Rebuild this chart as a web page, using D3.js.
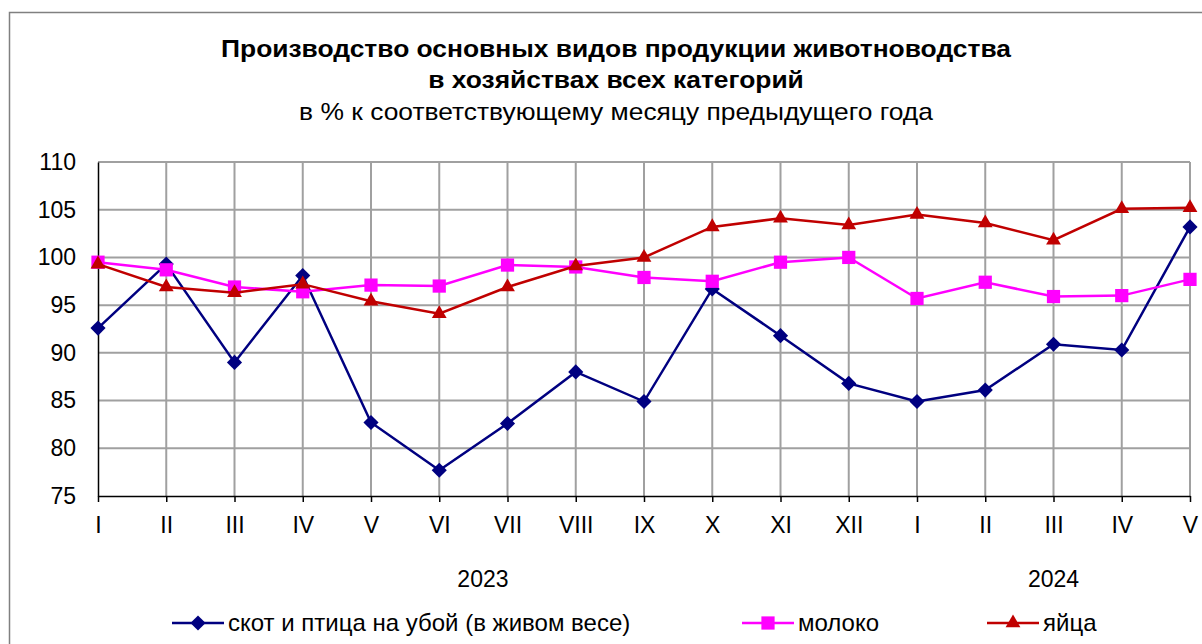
<!DOCTYPE html>
<html>
<head>
<meta charset="utf-8">
<script src="https://cdn.jsdelivr.net/npm/d3@7"></script>
<style>
  body { margin: 0; background: #fff; }
  svg { display: block; font-family: "Liberation Sans", Arial, sans-serif; }
</style>
</head>
<body>
<svg id="chart" width="1202" height="644"></svg>
<script>
'use strict';

const months = ['I', 'II', 'III', 'IV', 'V', 'VI', 'VII', 'VIII', 'IX', 'X', 'XI', 'XII',
  'I', 'II', 'III', 'IV', 'V'];
const years = [{ label: '2023', at: 5.64 }, { label: '2024', at: 14 }];
const yTicks = [75, 80, 85, 90, 95, 100, 105, 110];

const livestock = [92.6, 99.3, 89.0, 98.1, 82.7, 77.7, 82.6, 88.0, 84.9, 96.7, 91.8, 86.8,
  84.9, 86.1, 90.9, 90.3, 103.2];
const milk = [99.5, 98.7, 96.9, 96.4, 97.1, 97.0, 99.2, 99.0, 97.9, 97.5, 99.5, 100.0,
  95.7, 97.4, 95.9, 96.0, 97.7];
const eggs = [99.3, 96.9, 96.3, 97.2, 95.4, 94.1, 96.9, 99.1, 100.0, 103.2, 104.1, 103.4,
  104.5, 103.6, 101.8, 105.1, 105.2];

const series = [
  { name: 'скот и птица на убой (в живом весе)', values: livestock, color: '#000080', symbol: d3.symbolSquare, size: 115, rotate: 45 },
  { name: 'молоко', values: milk, color: '#ff00ff', symbol: d3.symbolSquare, size: 175, rotate: 0 },
  { name: 'яйца', values: eggs, color: '#c00000', symbol: d3.symbolTriangle, size: 95, rotate: 0 }
];

const svg = d3.select('#chart');
const plotLeft = 98, plotRight = 1190, plotTop = 162, plotBottom = 496;

const x = d3.scalePoint().domain(d3.range(months.length)).range([plotLeft, plotRight]);
const y = d3.scaleLinear().domain([75, 110]).range([plotBottom, plotTop]);

// outer frame
svg.append('path')
  .attr('d', 'M 9.5 644 L 9.5 12.5 L 1210 12.5')
  .attr('fill', 'none')
  .attr('stroke', '#808080')
  .attr('stroke-width', 1.5);

// titles (slightly widened like the original)
const titles = [
  { text: 'Производство основных видов продукции животноводства', y: 57, bold: true },
  { text: 'в хозяйствах всех категорий', y: 88, bold: true },
  { text: 'в % к соответствующему месяцу предыдущего года', y: 120, bold: false }
];
svg.selectAll('text.title')
  .data(titles)
  .join('text')
  .attr('class', 'title')
  .attr('transform', d => `translate(616,${d.y}) scale(1.1,1)`)
  .attr('text-anchor', 'middle')
  .attr('font-size', 24)
  .attr('font-weight', d => d.bold ? 'bold' : 'normal')
  .text(d => d.text);

// grid
const grid = svg.append('g').attr('stroke', '#a0a0a0').attr('stroke-width', 2);
grid.selectAll('line.h')
  .data(yTicks.filter(t => t > 75))
  .join('line')
  .attr('class', 'h')
  .attr('x1', plotLeft).attr('x2', plotRight)
  .attr('y1', d => y(d)).attr('y2', d => y(d));
grid.selectAll('line.v')
  .data(d3.range(1, months.length))
  .join('line')
  .attr('class', 'v')
  .attr('x1', d => x(d)).attr('x2', d => x(d))
  .attr('y1', plotTop).attr('y2', plotBottom);

// axes
const yAxis = d3.axisLeft(y).tickValues(yTicks).tickSize(0).tickPadding(22);
const yg = svg.append('g').attr('transform', `translate(${plotLeft},0)`).call(yAxis);
yg.select('.domain').attr('stroke', '#000').attr('stroke-width', 1.5);
yg.selectAll('text').attr('font-size', 23).attr('fill', '#000').attr('font-family', 'Liberation Sans, Arial, sans-serif');

const xAxis = d3.axisBottom(x).tickFormat(i => months[i]).tickSize(6).tickSizeOuter(0).tickPadding(15);
const xg = svg.append('g').attr('transform', `translate(0,${plotBottom})`).call(xAxis);
xg.select('.domain').attr('stroke', '#000').attr('stroke-width', 1.5);
xg.selectAll('.tick line').attr('stroke', '#000').attr('stroke-width', 1.5);
xg.selectAll('text').attr('font-size', 23).attr('fill', '#000').attr('font-family', 'Liberation Sans, Arial, sans-serif');

// year labels
svg.selectAll('text.year')
  .data(years)
  .join('text')
  .attr('class', 'year')
  .attr('x', d => plotLeft + (plotRight - plotLeft) * d.at / (months.length - 1))
  .attr('y', 587)
  .attr('text-anchor', 'middle')
  .attr('font-size', 23)
  .text(d => d.label);

// lines and markers
const line = d3.line().x((d, i) => x(i)).y(d => y(d));
series.forEach(s => {
  svg.append('path')
    .attr('d', line(s.values))
    .attr('fill', 'none')
    .attr('stroke', s.color)
    .attr('stroke-width', 2.5);
  svg.append('g').selectAll('path')
    .data(s.values)
    .join('path')
    .attr('transform', (d, i) => `translate(${x(i)},${y(d)}) rotate(${s.rotate})`)
    .attr('d', d3.symbol(s.symbol, s.size))
    .attr('fill', s.color);
});

// legend
const legendPos = [172, 742, 987];
const legend = svg.append('g');
series.forEach((s, i) => {
  const g = legend.append('g').attr('transform', `translate(${legendPos[i]},623)`);
  g.append('line')
    .attr('x1', 0).attr('x2', 52)
    .attr('stroke', s.color).attr('stroke-width', 2.5);
  g.append('path')
    .attr('transform', `translate(26,0) rotate(${s.rotate})`)
    .attr('d', d3.symbol(s.symbol, s.size))
    .attr('fill', s.color);
  g.append('text')
    .attr('x', 56).attr('y', 8)
    .attr('font-size', 24)
    .text(s.name);
});
</script>
</body>
</html>
